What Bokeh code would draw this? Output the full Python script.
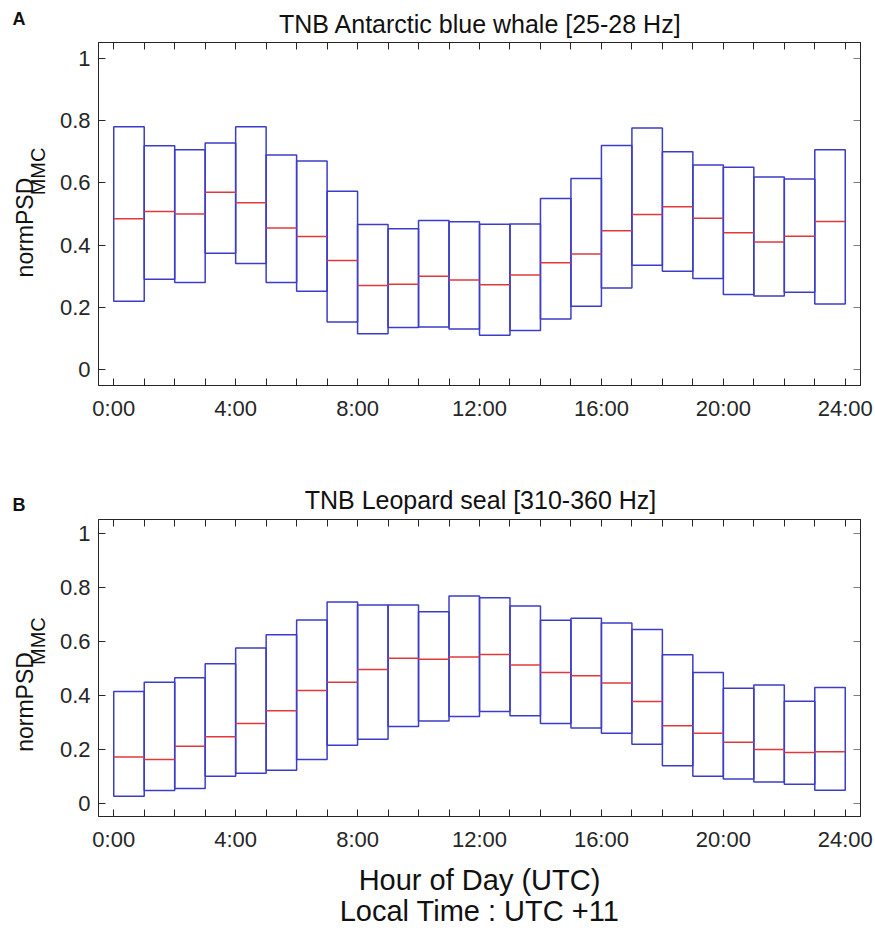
import math
from bokeh.plotting import figure
from bokeh.models import Range1d, FixedTicker, CustomJSTickFormatter, LinearAxis, Label
from bokeh.layouts import column, row
from bokeh.embed import file_html
from bokeh.resources import INLINE

hours = list(range(24))
x_ticks = list(range(25))
y_ticks = [0, 0.2, 0.4, 0.6, 0.8, 1.0]

title_a = "TNB Antarctic blue whale [25-28 Hz]"
a_top = [0.780, 0.719, 0.706, 0.728, 0.780, 0.689, 0.670, 0.573, 0.466, 0.453, 0.479, 0.475,
         0.467, 0.468, 0.550, 0.614, 0.720, 0.776, 0.700, 0.657, 0.650, 0.619, 0.612, 0.706]
a_med = [0.485, 0.508, 0.500, 0.570, 0.536, 0.455, 0.428, 0.351, 0.271, 0.275, 0.300, 0.288,
         0.273, 0.304, 0.344, 0.372, 0.446, 0.498, 0.523, 0.486, 0.440, 0.410, 0.429, 0.476]
a_bot = [0.220, 0.291, 0.280, 0.374, 0.341, 0.280, 0.252, 0.154, 0.116, 0.136, 0.138, 0.131,
         0.111, 0.126, 0.163, 0.204, 0.263, 0.336, 0.316, 0.293, 0.242, 0.237, 0.249, 0.211]

title_b = "TNB Leopard seal [310-360 Hz]"
b_top = [0.413, 0.447, 0.464, 0.516, 0.574, 0.623, 0.678, 0.744, 0.733, 0.733, 0.708, 0.767,
         0.760, 0.730, 0.677, 0.684, 0.667, 0.643, 0.549, 0.483, 0.425, 0.437, 0.377, 0.428]
b_med = [0.170, 0.161, 0.210, 0.245, 0.294, 0.342, 0.417, 0.447, 0.494, 0.536, 0.532, 0.541,
         0.550, 0.511, 0.483, 0.471, 0.444, 0.376, 0.286, 0.258, 0.225, 0.198, 0.187, 0.190]
b_bot = [0.025, 0.046, 0.054, 0.099, 0.110, 0.121, 0.161, 0.214, 0.236, 0.283, 0.304, 0.320,
         0.339, 0.323, 0.294, 0.278, 0.258, 0.218, 0.138, 0.099, 0.089, 0.078, 0.069, 0.047]

y_label_main = "normPSD"
y_label_sub = "MMC"
x_label_1 = "Hour of Day (UTC)"
x_label_2 = "Local Time : UTC +11"

FONT = "Liberation Sans"
AX = "#262626"
TXT = "#111111"
BLUE = "#3c3cc8"
RED = "#e0393b"
XMIN, XMAX = -0.5, 24.5
YMIN, YMAX = -0.05, 1.05
W = 875
YLAB_W = 50
BASE_SHIFT = 0.36   # measured drift of the rendered baseline, in em


def style_axis(ax, show_labels, xaxis):
    ax.axis_line_color = AX
    ax.major_tick_line_color = AX
    ax.major_tick_in = 7
    ax.major_tick_out = 0
    ax.minor_tick_line_color = None
    ax.major_label_text_font = FONT
    ax.major_label_text_font_size = "22px"
    ax.major_label_text_color = AX
    ax.major_label_standoff = 10 if xaxis else 8
    if xaxis:
        ax.ticker = FixedTicker(ticks=x_ticks)
        if show_labels:
            ax.formatter = CustomJSTickFormatter(code="return (tick % 4 == 0) ? (tick + ':00') : '';")
    else:
        ax.ticker = FixedTicker(ticks=y_ticks)
        if show_labels:
            ax.formatter = CustomJSTickFormatter(code="return String(Math.round(tick * 10) / 10);")
    if not show_labels:
        ax.formatter = CustomJSTickFormatter(code="return '';")
        ax.major_label_standoff = 0
        ax.major_label_text_font_size = "0px"


def main_panel(top, med, bot, height, b_top_px, b_bot_px):
    p = figure(width=W - YLAB_W, height=height, output_backend="svg", toolbar_location=None,
               x_range=Range1d(XMIN, XMAX), y_range=Range1d(YMIN, YMAX),
               min_border_left=98 - YLAB_W, min_border_right=15,
               min_border_top=b_top_px, min_border_bottom=b_bot_px,
               x_axis_location=None, y_axis_location=None)
    p.xgrid.visible = False
    p.ygrid.visible = False
    p.outline_line_color = AX
    p.background_fill_color = "white"
    p.border_fill_color = "white"

    xb = LinearAxis(); style_axis(xb, True, True); p.add_layout(xb, "below")
    xt = LinearAxis(); style_axis(xt, False, True); p.add_layout(xt, "above")
    yl = LinearAxis(); style_axis(yl, True, False); p.add_layout(yl, "left")
    yr = LinearAxis(); style_axis(yr, False, False); yr.major_tick_line_alpha = 0.6
    p.add_layout(yr, "right")

    left = hours
    right = [h + 1 for h in hours]
    p.quad(left=left, right=right, bottom=bot, top=top, fill_color=None,
           line_color=BLUE, line_width=1.5)
    p.segment(x0=left, x1=right, y0=med, y1=med, line_color=RED, line_width=1.5)
    return p


def text_fig(width, height, x0, y0):
    # a plain text area; ranges are page pixels, y stored negated (upwards)
    t = figure(width=width, height=height, output_backend="svg", toolbar_location=None,
               x_range=Range1d(x0, x0 + width), y_range=Range1d(-(y0 + height), -y0),
               min_border=0, x_axis_location=None, y_axis_location=None)
    t.xgrid.visible = False
    t.ygrid.visible = False
    t.outline_line_color = None
    t.background_fill_color = "white"
    t.border_fill_color = "white"
    return t


def put(t, x, y, text, size, align="left", angle=0.0, bold=False):
    shift = BASE_SHIFT * size
    if angle == 0.0:
        y = y - shift
    else:
        x = x - shift
    t.add_layout(Label(x=x, y=-y, text=text, angle=angle, text_align=align,
                       text_baseline="alphabetic", text_font=FONT, text_font_size=f"{size}px",
                       text_font_style="bold" if bold else "normal", text_color=TXT))


# ---- panel A ----
head_a = text_fig(W, 38, 0, 0)
put(head_a, 12, 25, "A", 18, bold=True)
put(head_a, 480, 32, title_a, 25, align="center")

main_a = main_panel(a_top, a_med, a_bot, 460 - 38, 4, 75)
ylab_a = text_fig(YLAB_W, 460 - 38, 0, 38)
put(ylab_a, 33, 292 + 35, y_label_main, 23, angle=math.pi / 2)
put(ylab_a, 45, 191 + 35, y_label_sub, 20, angle=math.pi / 2)

# ---- panel B ----
head_b = text_fig(W, 55, 0, 460)
put(head_b, 12, 511, "B", 18, bold=True)
put(head_b, 480, 508, title_b, 25, align="center")

main_b = main_panel(b_top, b_med, b_bot, 864 - 515, 4, 48)
ylab_b = text_fig(YLAB_W, 864 - 515, 0, 515)
put(ylab_b, 33, 763 + 25, y_label_main, 23, angle=math.pi / 2)
put(ylab_b, 45, 661 + 25, y_label_sub, 20, angle=math.pi / 2)

foot = text_fig(W, 930 - 864, 0, 864)
put(foot, 479, 890, x_label_1, 29, align="center")
put(foot, 479, 921, x_label_2, 29, align="center")

layout = column(head_a, row(ylab_a, main_a, spacing=0), head_b,
                row(ylab_b, main_b, spacing=0), foot, spacing=0)
open("out.html", "w").write(file_html(layout, INLINE))
